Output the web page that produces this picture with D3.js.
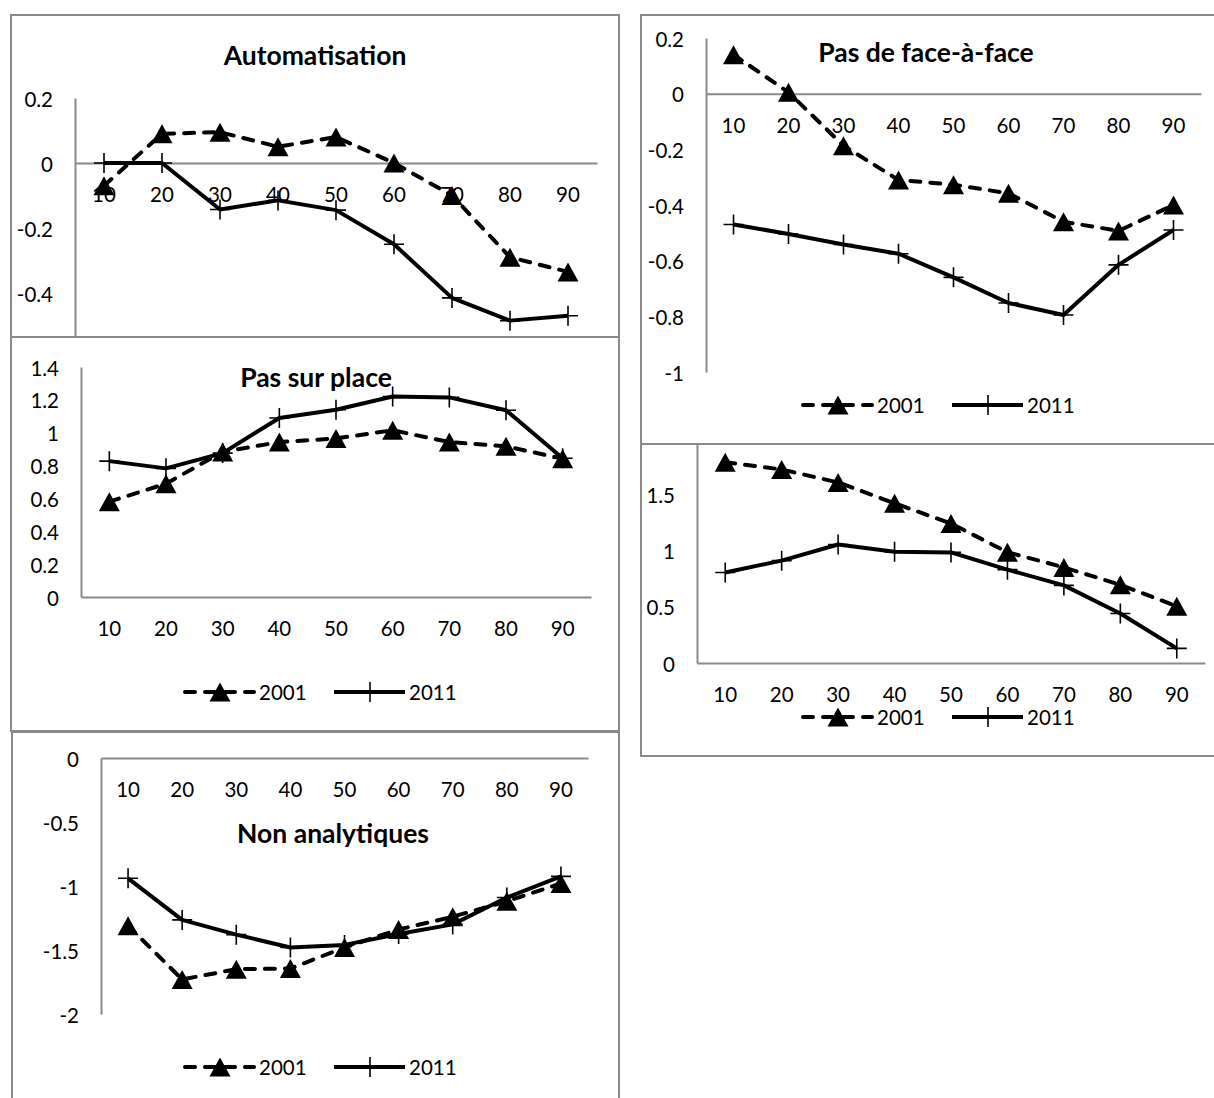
<!DOCTYPE html>
<html>
<head>
<meta charset="utf-8">
<script src="https://cdn.jsdelivr.net/npm/d3@7"></script>
<style>
  html, body { margin: 0; padding: 0; background: #fff; }
  svg { display: block; }
  text { font-family: Lato, "Open Sans", sans-serif; fill: #000; }
</style>
</head>
<body>
<svg id="chart" width="1214" height="1098"></svg>
<script>
// ---------------- DATA ----------------
const deciles = ["10", "20", "30", "40", "50", "60", "70", "80", "90"];
const seriesNames = ["2001", "2011"];

const autom2001 = [-0.07, 0.09, 0.095, 0.05, 0.08, 0.0, -0.1, -0.29, -0.335];
const autom2011 = [0, 0, -0.143, -0.115, -0.145, -0.25, -0.415, -0.485, -0.47];
const autoTicks = [0.2, 0, -0.2, -0.4];

const face2001 = [0.14, 0.005, -0.187, -0.31, -0.327, -0.358, -0.46, -0.493, -0.4];
const face2011 = [-0.47, -0.504, -0.542, -0.575, -0.66, -0.752, -0.795, -0.615, -0.49];
const faceTicks = [0.2, 0, -0.2, -0.4, -0.6, -0.8, -1];

const place2001 = [0.58, 0.69, 0.883, 0.943, 0.965, 1.015, 0.943, 0.917, 0.842];
const place2011 = [0.827, 0.783, 0.876, 1.09, 1.14, 1.22, 1.215, 1.137, 0.845];
const placeTicks = [0, 0.2, 0.4, 0.6, 0.8, 1, 1.2, 1.4];

const analyt2001 = [1.785, 1.72, 1.605, 1.42, 1.24, 0.985, 0.85, 0.695, 0.505];
const analyt2011 = [0.805, 0.91, 1.053, 0.988, 0.983, 0.83, 0.69, 0.44, 0.13];
const analytTicks = [0, 0.5, 1, 1.5];

const nonan2001 = [-1.31, -1.73, -1.65, -1.645, -1.48, -1.34, -1.24, -1.12, -0.98];
const nonan2011 = [-0.94, -1.265, -1.38, -1.48, -1.46, -1.375, -1.30, -1.09, -0.925];
const nonanTicks = [0, -0.5, -1, -1.5, -2];

const titles = ["Automatisation", "Pas de face-à-face", "Pas sur place", "", "Non analytiques"];

// ---------------- LAYOUT ----------------
const panels = [
  { title: titles[0], s1: autom2001, s2: autom2011, ticks: autoTicks,
    box: [11, 15, 608, 323], px: [75, 597], py: [358, 98], dom: [-0.6, 0.2],
    titlePos: [315, 55], legend: null },
  { title: titles[1], s1: face2001, s2: face2011, ticks: faceTicks,
    box: [641, 15, 600, 429], px: [706, 1201], py: [372, 38], dom: [-1, 0.2],
    titlePos: [926, 52], legend: { y: 405, x: 801 } },
  { title: titles[2], s1: place2001, s2: place2011, ticks: placeTicks,
    box: [11, 337, 608, 394], px: [81, 591], py: [597, 367], dom: [0, 1.4],
    titlePos: [316, 377], legend: { y: 692, x: 183 } },
  { title: titles[3], s1: analyt2001, s2: analyt2011, ticks: analytTicks,
    box: [641, 444, 600, 312], px: [697, 1205], py: [663, 438], dom: [0, 2],
    titlePos: null, legend: { y: 717, x: 801 } },
  { title: titles[4], s1: nonan2001, s2: nonan2011, ticks: nonanTicks,
    box: [12, 732, 607, 400], px: [101, 588], py: [1014, 758], dom: [-2, 0],
    titlePos: [333, 833], legend: { y: 1067, x: 183 } }
];

const GRAY = "#8a8a8a";
const LW = 4;
const svg = d3.select("#chart");

function triPath(w, h) {
  return `M0,${-h / 2}L${w / 2},${h / 2}L${-w / 2},${h / 2}Z`;
}
function plusPath(s) {
  return `M${-s},0H${s}M0,${-s}V${s}`;
}

panels.forEach((p, i) => {
  const [bx, by, bw, bh] = p.box;
  const clipId = "clip" + i;
  svg.append("clipPath").attr("id", clipId)
    .append("rect").attr("x", bx - 1).attr("y", by - 1).attr("width", bw + 2).attr("height", bh + 2);

  const g = svg.append("g").attr("clip-path", `url(#${clipId})`);
  g.append("rect").attr("x", bx).attr("y", by).attr("width", bw).attr("height", bh)
    .attr("fill", "#fff").attr("stroke", GRAY).attr("stroke-width", 2);

  const x = d3.scaleBand().domain(deciles).range(p.px).padding(0);
  const y = d3.scaleLinear().domain(p.dom).range(p.py);
  const y0 = y(Math.max(p.dom[0], Math.min(0, p.dom[1])));

  // Y axis
  const ya = g.append("g").attr("transform", `translate(${p.px[0]},0)`)
    .call(d3.axisLeft(y).tickValues(p.ticks).tickSize(0).tickPadding(22)
      .tickFormat(d => String(d)));
  ya.select(".domain").attr("stroke", GRAY).attr("stroke-width", 2);
  ya.selectAll("text").attr("font-size", 20.5).attr("font-family", "Lato")
    .attr("dy", null).attr("dominant-baseline", "central");

  // X axis (at zero line)
  const xa = g.append("g").attr("transform", `translate(0,${y0})`)
    .call(d3.axisBottom(x).tickSize(0).tickPadding(0));
  xa.select(".domain").attr("stroke", GRAY).attr("stroke-width", 2);
  xa.selectAll("text").attr("font-size", 20.5).attr("font-family", "Lato")
    .attr("dy", null).attr("y", 31).attr("dominant-baseline", "central");

  // Title
  if (p.titlePos && p.title) {
    g.append("text").attr("x", p.titlePos[0]).attr("y", p.titlePos[1])
      .attr("text-anchor", "middle").attr("dominant-baseline", "central")
      .attr("font-size", 26.5).attr("font-weight", "bold").text(p.title);
  }

  const cx = d => x(d) + x.bandwidth() / 2;
  const line = d3.line().x((v, j) => cx(deciles[j])).y(v => y(v));

  // 2011 solid
  g.append("path").datum(p.s2).attr("d", line).attr("fill", "none")
    .attr("stroke", "#000").attr("stroke-width", LW).attr("stroke-linejoin", "round");
  g.selectAll(".plus" + i).data(p.s2).enter().append("path")
    .attr("transform", (v, j) => `translate(${cx(deciles[j])},${y(v)})`)
    .attr("d", plusPath(10)).attr("stroke", "#000").attr("stroke-width", 1.6).attr("fill", "none");

  // 2001 dashed
  g.append("path").datum(p.s1).attr("d", line).attr("fill", "none")
    .attr("stroke", "#000").attr("stroke-width", LW).attr("stroke-dasharray", "10,10")
    .attr("stroke-linecap", "round").attr("stroke-linejoin", "round");
  g.selectAll(".tri" + i).data(p.s1).enter().append("path")
    .attr("transform", (v, j) => `translate(${cx(deciles[j])},${y(v)})`)
    .attr("d", triPath(21, 19)).attr("fill", "#000");

  // Legend
  if (p.legend) {
    const L = p.legend;
    const lg = g.append("g");
    // 2001
    lg.append("line").attr("x1", L.x + 2).attr("x2", L.x + 71).attr("y1", L.y).attr("y2", L.y)
      .attr("stroke", "#000").attr("stroke-width", LW).attr("stroke-dasharray", "10,10")
      .attr("stroke-linecap", "round");
    lg.append("path").attr("transform", `translate(${L.x + 37},${L.y})`)
      .attr("d", triPath(21, 19)).attr("fill", "#000");
    lg.append("text").attr("x", L.x + 76).attr("y", L.y).attr("dominant-baseline", "central")
      .attr("font-size", 20.5).text(seriesNames[0]);
    // 2011
    lg.append("line").attr("x1", L.x + 151).attr("x2", L.x + 222).attr("y1", L.y).attr("y2", L.y)
      .attr("stroke", "#000").attr("stroke-width", LW);
    lg.append("path").attr("transform", `translate(${L.x + 187},${L.y})`)
      .attr("d", plusPath(10)).attr("stroke", "#000").attr("stroke-width", 1.6);
    lg.append("text").attr("x", L.x + 226).attr("y", L.y).attr("dominant-baseline", "central")
      .attr("font-size", 20.5).text(seriesNames[1]);
  }
});
</script>
</body>
</html>
